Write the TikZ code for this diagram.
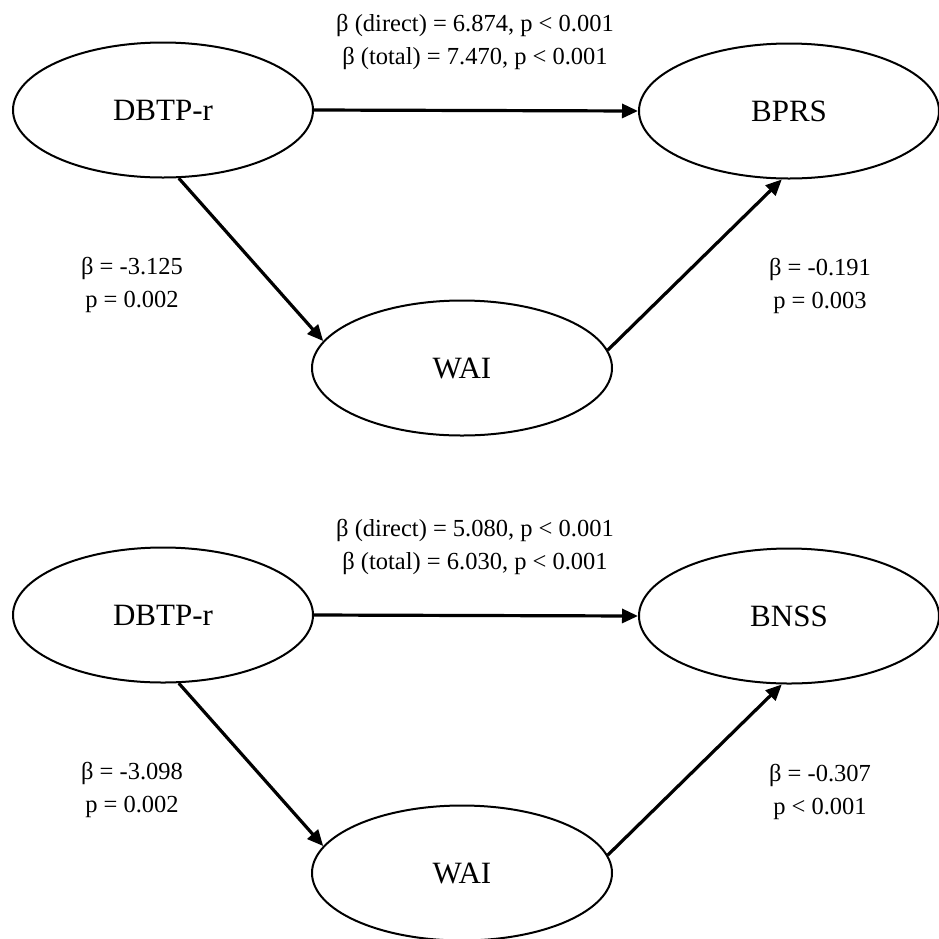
\documentclass[tikz,border=0pt]{standalone}
\usepackage{fontspec}
\setmainfont{Liberation Serif}
\usetikzlibrary{shapes.geometric,arrows.meta}

\begin{document}
\begin{tikzpicture}[x=1pt,y=-1pt,
  var/.style={draw, ellipse, line width=2pt, minimum width=300pt, minimum height=135pt, inner sep=0pt, font=\fontsize{31}{36}\selectfont},
  path/.style={line width=3.2pt, -{Triangle[length=16pt,width=14pt]}},
  coef/.style={align=center, font=\fontsize{24.5}{33}\selectfont}]
\useasboundingbox (0,0) rectangle (939,938);
% upper model
\node[var] (dbtpA) at (163,110) {DBTP-r};
\node[var] (bprs) at (789,111) {BPRS};
\node[var] (waiA) at (462,368) {WAI};
\draw[path] (dbtpA.east) -- (bprs.west);
\draw[path] (dbtpA.-77) -- (waiA.169);
\draw[path] (waiA.7) -- (bprs.-96);
\node[coef] (totA) at (475,42) {β (direct) = 6.874, p < 0.001\\β (total) = 7.470, p < 0.001};
\node[coef] (aA) at (132,285) {β = -3.125\\p = 0.002};
\node[coef] (bA) at (820,286) {β = -0.191\\p = 0.003};
% lower model
\node[var] (dbtpB) at (163,615) {DBTP-r};
\node[var] (bnss) at (789,616) {BNSS};
\node[var] (waiB) at (462,873) {WAI};
\draw[path] (dbtpB.east) -- (bnss.west);
\draw[path] (dbtpB.-77) -- (waiB.169);
\draw[path] (waiB.7) -- (bnss.-96);
\node[coef] (totB) at (475,547) {β (direct) = 5.080, p < 0.001\\β (total) = 6.030, p < 0.001};
\node[coef] (aB) at (132,790) {β = -3.098\\p = 0.002};
\node[coef] (bB) at (820,792) {β = -0.307\\p < 0.001};
\end{tikzpicture}
\end{document}
